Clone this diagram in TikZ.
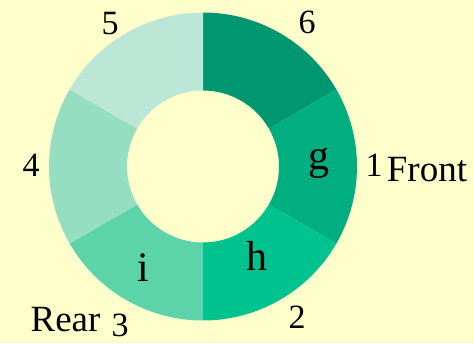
\documentclass[tikz,border=0pt]{standalone}
\usepackage{fontspec}
\setmainfont{Liberation Serif}
\usetikzlibrary{calc}
\begin{document}
\begin{tikzpicture}[x=1pt,y=1pt,
  lbl/.style={anchor=base,inner sep=0pt,font=\fontsize{34}{40}\selectfont},
  word/.style={anchor=base,inner sep=0pt,font=\fontsize{37}{44}\selectfont},
  seg/.style={anchor=base,inner sep=0pt,font=\fontsize{42}{50}\selectfont}]
\definecolor{bgc}{RGB}{255,255,204}
\definecolor{cA}{RGB}{0,150,112}
\definecolor{cB}{RGB}{0,174,128}
\definecolor{cC}{RGB}{0,194,143}
\definecolor{cD}{RGB}{93,211,170}
\definecolor{cE}{RGB}{150,222,194}
\definecolor{cF}{RGB}{188,230,214}
\fill[bgc] (0,0) rectangle (474,343);
\useasboundingbox (0,0) rectangle (474,343);
\coordinate (c) at (203,176.5);
\def\R{154}\def\r{76}
\foreach \a/\b/\col in {90/30/cA, 30/-30/cB, -30/-90/cC, -90/-150/cD, -150/-210/cE, 150/90/cF}{
  \fill[\col] ($(c)+(\a:\R)$) arc[start angle=\a, end angle=\b, radius=\R]
     -- ($(c)+(\b:\r)$) arc[start angle=\b, end angle=\a, radius=\r] -- cycle;
}
\node[lbl] (n5) at (110,308.5) {5};
\node[lbl] (n6) at (307,309.5) {6};
\node[lbl] (n1) at (374,166.3) {1};
\node[word] (front) at (427,161.5) {Front};
\node[lbl] (n4) at (31,166.3) {4};
\node[lbl] (n2) at (297,15) {2};
\node[lbl] (n3) at (120,6.5) {3};
\node[word] (rear) at (65.5,11.5) {Rear};
\node[seg] (g) at (318.5,173.5) {g};
\node[seg] (h) at (256.7,72.3) {h};
\node[seg] (i) at (143,62) {i};
\end{tikzpicture}
\end{document}
